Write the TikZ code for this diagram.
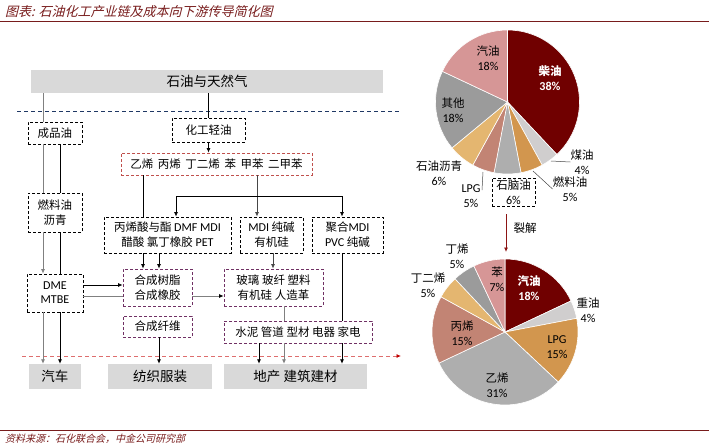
\documentclass[tikz,border=0pt]{standalone}
\usepackage{fontspec}
\setmainfont{Noto Sans CJK SC}
\newfontfamily\lat[Scale=1.05]{Carlito}
\newfontfamily\slant[FakeSlant=0.25]{Noto Sans CJK SC}
\usetikzlibrary{arrows.meta}
\definecolor{titlered}{RGB}{120,28,28}
\definecolor{bargray}{RGB}{217,217,217}
\definecolor{linegray}{RGB}{128,128,128}
\definecolor{dkline}{RGB}{70,70,70}
\definecolor{sepblue}{RGB}{31,56,100}
\definecolor{sepred}{RGB}{222,110,110}
\definecolor{boxred}{RGB}{192,80,77}
\definecolor{boxpurple}{RGB}{112,48,100}
\definecolor{crackred}{RGB}{140,20,20}
\definecolor{oilred}{RGB}{112,0,0}
\definecolor{palegray}{RGB}{208,206,206}
\definecolor{cgold}{RGB}{210,150,78}
\definecolor{midgray}{RGB}{174,174,174}
\definecolor{crose}{RGB}{194,132,116}
\definecolor{ctan}{RGB}{228,182,112}
\definecolor{dkgray}{RGB}{155,155,155}
\definecolor{cpink}{RGB}{214,150,150}
\newcommand{\gap}{\hspace{0.4em}}
\begin{document}
\begin{tikzpicture}[x=1pt, y=-1pt, >={Latex[length=4.5pt,width=4pt]},
  txt/.style={inner sep=0pt, align=center, font=\fontsize{11.5}{15}\selectfont},
  wlab/.style={txt, text=white, font=\bfseries\fontsize{11.5}{15}\selectfont},
  dbox/.style={txt, draw, line width=0.7pt, dash pattern=on 3pt off 2pt, fill=white},
  pbox/.style={dbox, draw=boxpurple},
  rbox/.style={dbox, draw=boxred},
  bar/.style={txt, fill=bargray, font=\fontsize{13.5}{15}\selectfont},
  gl/.style={draw=linegray, line width=0.8pt},
  bl/.style={draw=black, line width=0.8pt},
  dl/.style={draw=dkline, line width=0.8pt},
  leader/.style={draw=dkline, line width=0.5pt}]
\useasboundingbox (0,0) rectangle (713,447);
%----------------- frame: title, rules and source -----------------
\node[anchor=west, inner sep=0pt, text=titlered, font=\slant\fontsize{13}{15}\selectfont] (title) at (5,12) {图表: 石油化工产业链及成本向下游传导简化图};
\coordinate (r0) at (0,21); \coordinate (r1) at (709,21);
\coordinate (r2) at (0,430); \coordinate (r3) at (709,430);
\draw[titlered, line width=1pt] (r0) -- (r1);
\draw[titlered, line width=1pt] (r2) -- (r3);
\node[anchor=west, inner sep=0pt, text=titlered, font=\slant\fontsize{10}{12}\selectfont] (src) at (5,439) {资料来源：石化联合会，中金公司研究部};
%----------------- chain: boxes -----------------
\node[bar, minimum width=352, minimum height=23] (gas) at (207,81.5) {石油与天然气};
\coordinate (s0) at (17,111); \coordinate (s1) at (400,111);
\draw[sepblue, line width=0.8pt, dash pattern=on 4pt off 3pt] (s0) -- (s1);
\node[dbox, minimum width=54, minimum height=22] (refined) at (55,133) {成品油};
\node[dbox, minimum width=54, minimum height=39] (fueloil) at (55,212.5) {燃料油\\沥青};
\node[dbox, minimum width=56, minimum height=38, font=\lat\fontsize{11.5}{14}\selectfont] (dme) at (55,293) {DME\\MTBE};
\node[dbox, minimum width=73, minimum height=24] (naph) at (208.5,130) {化工轻油};
\node[rbox, minimum width=191, minimum height=22] (olef) at (216.5,164) {乙烯\gap 丙烯\gap 丁二烯\gap 苯\gap 甲苯\gap 二甲苯};
\node[dbox, minimum width=127, minimum height=36] (acid) at (167.5,235) {丙烯酸与酯 {\lat DMF MDI}\\醋酸 氯丁橡胶 {\lat PET}};
\node[dbox, minimum width=63, minimum height=36] (mdi) at (271.5,235) {{\lat MDI} 纯碱\\有机硅};
\node[dbox, minimum width=71, minimum height=36] (pmdi) at (347.5,235) {聚合{\lat MDI}\\{\lat PVC} 纯碱};
\node[pbox, minimum width=69, minimum height=37] (resin) at (157.5,287.5) {合成树脂\\合成橡胶};
\node[pbox, minimum width=69, minimum height=21] (fiber) at (157.5,326.5) {合成纤维};
\node[pbox, minimum width=99, minimum height=37] (glass) at (273.5,287.5) {玻璃 玻纤 塑料\\有机硅 人造革};
\node[pbox, minimum width=148, minimum height=22] (cement) at (298,332) {水泥 管道 型材 电器 家电};
% end uses
\coordinate (e0) at (22,356); \coordinate (e1) at (401,356);
\draw[sepred, line width=0.8pt, dash pattern=on 4pt off 3pt, -{Latex[length=4.5pt,width=4pt,color=red!75!black]}] (e0) -- (e1);
\node[bar, minimum width=52, minimum height=25] (car) at (55,376.5) {汽车};
\node[bar, minimum width=104, minimum height=25] (textile) at (160,376.5) {纺织服装};
\node[bar, minimum width=143, minimum height=25] (estate) at (295.5,376.5) {地产 建筑建材};
%----------------- chain: connectors -----------------
\coordinate (lg) at (43,0); \coordinate (lb) at (60,0);
\coordinate (a1) at (143,0); \coordinate (a2) at (159,0);
\coordinate (jl) at (176,196); \coordinate (jm) at (257,196); \coordinate (jr) at (342,196);
\coordinate (mg) at (273,0); \coordinate (pc) at (259,0); \coordinate (pg) at (284,0);
\coordinate (dt) at (0,285); \coordinate (db) at (0,296);
\draw[gl] (lg |- gas.south) -- (lg |- refined.north);
\draw[gl] (lg |- refined.south) -- (lg |- fueloil.north);
\draw[bl] (lb |- refined.south) -- (lb |- fueloil.north);
\draw[gl,->] (lg |- fueloil.south) -- (lg |- dme.north);
\draw[bl] (lb |- fueloil.south) -- (lb |- dme.north);
\draw[gl,->] (lg |- dme.south) -- (lg |- car.north);
\draw[bl,->] (lb |- dme.south) -- (lb |- car.north);
\draw[bl,->] (dme.east |- dt) -- (resin.west |- dt);
\draw[gl] (dme.east |- db) -- (resin.west |- db);
\draw[bl] (gas.south -| naph.north) -- (naph.north);
\draw[bl,->] (naph.south) -- (naph.south |- olef.north);
\draw[bl] (a1 |- olef.south) -- (a1 |- acid.north);
\draw[dl,->] (jm |- olef.south) -- (jm |- mdi.north);
\draw[bl] (jl) -- (jr);
\draw[bl,->] (jl) -- (jl |- acid.north);
\draw[bl,->] (jr) -- (jr |- pmdi.north);
\draw[bl,->] (a1 |- acid.south) -- (a1 |- resin.north);
\draw[bl,->] (a2 |- acid.south) -- (a2 |- resin.north);
\draw[gl,-{Latex[length=4.5pt,width=4pt,color=black]}] (resin.east |- db) -- (glass.west |- db);
\draw[dl,->] (mg |- mdi.south) -- (mg |- glass.north);
\draw[bl] (jr |- pmdi.south) -- (jr |- cement.north);
\draw[bl,->] (jr |- cement.south) -- (jr |- estate.north);
\draw[gl] (pg |- glass.south) -- (pg |- cement.north);
\draw[gl,->] (pg |- cement.south) -- (pg |- estate.north);
\draw[bl,->] (pc |- cement.south) -- (pc |- estate.north);
\draw[bl,->] (a2 |- fiber.south) -- (a2 |- textile.north);
%----------------- pie 1: refinery output -----------------
\begin{scope}[shift={(507.5,102)}]
\def\curang{90}
\foreach \p/\c in {38/oilred, 4/palegray, 5/cgold, 6/midgray, 5/crose, 6/ctan, 18/dkgray, 18/cpink}{
  \pgfmathsetmacro\nextang{\curang-3.6*\p}
  \fill[\c, draw=white, line width=0.6pt] (0,0) -- (\curang:72pt) arc[start angle=\curang, end angle=\nextang, radius=72pt] -- cycle;
  \xdef\curang{\nextang}
}
\end{scope}
\node[wlab] (diesel) at (550,78) {柴油\\{\lat 38\%}};
\node[txt] (petrol) at (488,58) {汽油\\{\lat 18\%}};
\node[txt] (other) at (453,110.5) {其他\\{\lat 18\%}};
\node[txt] (kero) at (582,162) {煤油\\{\lat 4\%}};
\node[txt] (fo) at (570,189) {燃料油\\{\lat 5\%}};
\node[dbox, fill=none, line width=0.6pt, minimum width=43, minimum height=28] (nap) at (513.5,192) {石脑油\\{\lat 6\%}};
\node[txt, font=\lat\fontsize{11.5}{15}\selectfont] (lpg) at (471,196) {LPG\\5\%};
\node[txt] (asph) at (439,173) {石油沥青\\{\lat 6\%}};
\coordinate (k0) at (551,161); \coordinate (f0) at (533,171);
\coordinate (l0) at (483,172); \coordinate (l1) at (482,190);
\draw[leader] (k0) -- (kero.west);
\draw[leader] (f0) -- (fo.west);
\draw[leader] (l0) -- (l1);
% cracking
\coordinate (c0) at (506,214); \coordinate (c1) at (506,252);
\draw[crackred, line width=0.8pt, ->] (c0) -- (c1);
\node[txt] (crack) at (525,228) {裂解};
%----------------- pie 2: cracking output -----------------
\begin{scope}[shift={(505,332)}]
\def\curang{90}
\foreach \p/\c in {18/oilred, 4/palegray, 15/cgold, 31/midgray, 15/crose, 5/ctan, 5/dkgray, 7/cpink}{
  \pgfmathsetmacro\nextang{\curang-3.6*\p}
  \fill[\c, draw=white, line width=0.6pt] (0,0) -- (\curang:73pt) arc[start angle=\curang, end angle=\nextang, radius=73pt] -- cycle;
  \xdef\curang{\nextang}
}
\end{scope}
\node[wlab] (petrol2) at (529,288.5) {汽油\\{\lat 18\%}};
\node[txt] (heavy) at (588,310.5) {重油\\{\lat 4\%}};
\node[txt, font=\lat\fontsize{11.5}{15}\selectfont] (lpg2) at (557,347) {LPG\\15\%};
\node[txt] (ethy) at (497,385) {乙烯\\{\lat 31\%}};
\node[txt] (prop) at (462,333) {丙烯\\{\lat 15\%}};
\node[txt] (butd) at (428,285) {丁二烯\\{\lat 5\%}};
\node[txt] (bute) at (457,256) {丁烯\\{\lat 5\%}};
\node[txt] (benz) at (497,279.5) {苯\\{\lat 7\%}};
\end{tikzpicture}
\end{document}
